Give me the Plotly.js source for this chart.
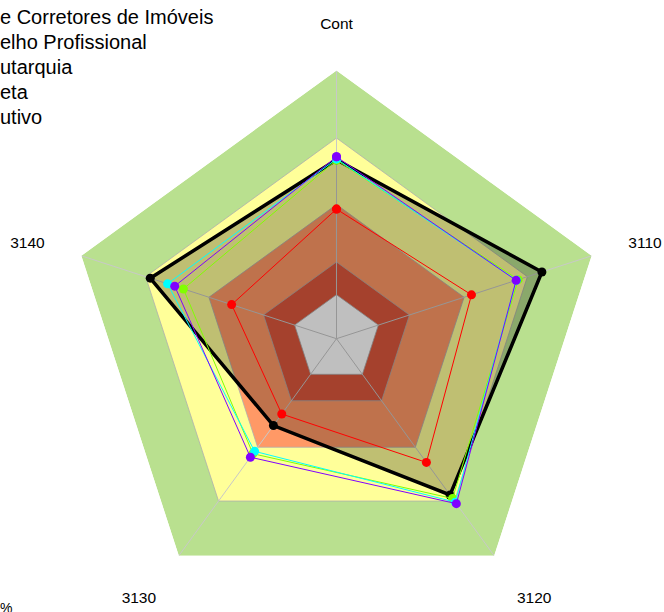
<!DOCTYPE html>
<html><head><meta charset="utf-8">
<script src="https://cdn.plot.ly/plotly-3.0.1.min.js"></script>
<style>html,body{margin:0;padding:0;background:#fff;overflow:hidden}#chart{width:664px;height:612px}</style>
</head><body><div id="chart"></div>
<script>
// ---- data ----
const categories = ['Cont', '3110', '3120', '3130', '3140'];
const legendLabels = ['e Corretores de Imóveis', 'elho Profissional', 'utarquia', 'eta', 'utivo'];
const bandLimits = [100, 74.8, 50, 28.6, 16.4];
const blackValues  = [66.7, 80.5, 72.0, 40.0, 73.0];
const purpleValues = [67.8, 70.4, 76.0, 54.6, 63.4];
const cyanValues   = [67.0, 70.5, 75.3, 51.9, 66.2];
const limeValues   = [66.6, 71.2, 73.6, 53.0, 60.0];
const redValues    = [48.3, 52.9, 57.0, 34.7, 41.1];
const footText = '%';

// ---- layout helpers ----
const W = 664, H = 612;
const cx = 336.5, cy = 338.7, R = 268.3;
const close = a => a.concat([a[0]]);
const th = close(categories);

const bandColors = ['rgb(185,224,143)', 'rgb(255,255,153)', 'rgb(255,153,102)', 'rgb(220,87,60)', 'rgb(255,255,255)'];
const traces = [];
bandLimits.forEach((v, i) => {
  traces.push({type: 'scatterpolar', mode: 'lines', r: close(categories.map(() => v)), theta: th,
    fill: 'toself', fillcolor: bandColors[i], line: {color: i === 0 ? 'rgba(0,0,0,0)' : 'rgb(175,175,175)', width: i === 0 ? 0 : 0.8},
    hoverinfo: 'skip', showlegend: false});
});
categories.forEach(c => {
  traces.push({type: 'scatterpolar', mode: 'lines', r: [0, bandLimits[0]], theta: [c, c],
    line: {color: 'rgb(200,200,200)', width: 1}, hoverinfo: 'skip', showlegend: false});
});
traces.push({type: 'scatterpolar', mode: 'lines+markers', r: close(blackValues), theta: th, fill: 'toself',
  fillcolor: 'rgba(0,0,0,0.25)', line: {color: '#000', width: 3.5}, marker: {color: '#000', size: 9}, name: legendLabels[0], showlegend: false});
const series = [
  {v: redValues, c: '#FF0000', n: legendLabels[3]},
  {v: limeValues, c: '#80FF00', n: legendLabels[4]},
  {v: cyanValues, c: '#00FFFF', n: legendLabels[2]},
  {v: purpleValues, c: '#8000FF', n: legendLabels[1]}
];
series.forEach(s => traces.push({type: 'scatterpolar', mode: 'lines+markers', r: close(s.v), theta: th,
  line: {color: s.c, width: 1}, marker: {color: s.c, size: 9}, name: s.n, showlegend: false}));

const annotations = legendLabels.map((t, i) => ({xref: 'paper', yref: 'paper', x: -2 / W, y: 1 - (4 + 25 * i) / H,
  xanchor: 'left', yanchor: 'top', text: t, showarrow: false, font: {family: 'Liberation Sans, Arial', size: 20, color: '#000'}}));
annotations.push({xref: 'paper', yref: 'paper', x: -2 / W, y: 1 - 598 / H, xanchor: 'left', yanchor: 'top', text: footText,
  showarrow: false, font: {family: 'Liberation Sans, Arial', size: 14, color: '#000'}});

const layout = {
  width: W, height: H, margin: {l: 0, r: 0, t: 0, b: 0, autoexpand: false},
  paper_bgcolor: '#fff', showlegend: false,
  polar: {
    domain: {x: [(cx - R) / W, (cx + R) / W], y: [(H - cy - R) / H, (H - cy + R) / H]},
    gridshape: 'linear', bgcolor: 'rgba(0,0,0,0)',
    radialaxis: {range: [0, 100], visible: false},
    angularaxis: {type: 'category', categoryarray: categories, direction: 'clockwise', rotation: 90,
      showgrid: false, showline: false, ticks: 'outside', ticklen: 35, tickcolor: 'rgba(0,0,0,0)',
      tickfont: {family: 'Liberation Sans, Arial', size: 15.5, color: '#000'}}
  },
  annotations: annotations
};
Plotly.newPlot('chart', traces, layout, {displayModeBar: false, staticPlot: true});
</script></body></html>
